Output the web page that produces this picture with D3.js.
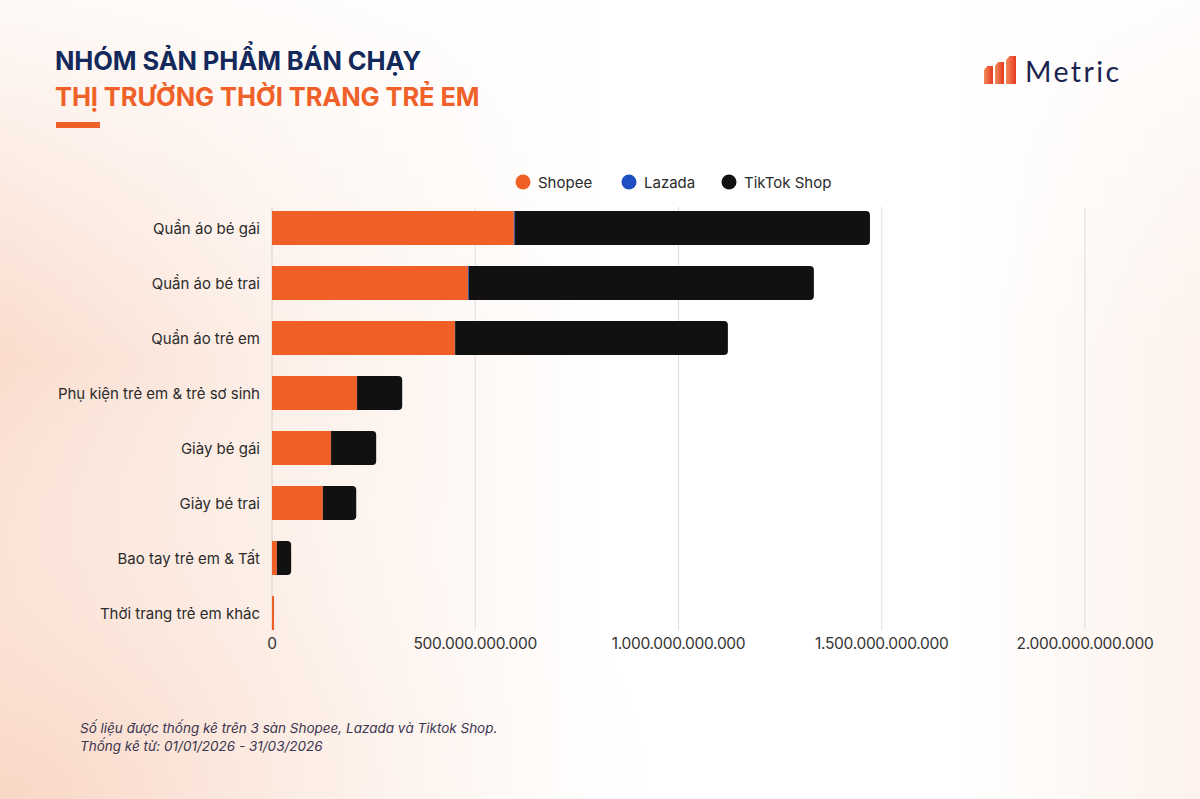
<!DOCTYPE html>
<html>
<head>
<meta charset="utf-8">
<script src="https://cdn.jsdelivr.net/npm/d3@7"></script>
<style>
  body { margin: 0; padding: 0; background: #fff; }
  svg { display: block; font-family: Inter, "Noto Sans", sans-serif; }
</style>
</head>
<body>
<div id="chart"></div>
<script>
// data (VND, billions)
const categories = ["Quần áo bé gái", "Quần áo bé trai", "Quần áo trẻ em",
  "Phụ kiện trẻ em & trẻ sơ sinh", "Giày bé gái", "Giày bé trai",
  "Bao tay trẻ em & Tất", "Thời trang trẻ em khác"];
const seriesNames = ["Shopee", "Lazada", "TikTok Shop"];
const shopee = [595, 482, 450, 209, 145, 125, 12, 5];
const lazada = [2, 2, 0.5, 0.3, 0.3, 0.2, 0.1, 0];
const tiktok = [874, 849, 671, 111, 111, 82, 35, 0];
const xTicks = [0, 500, 1000, 1500, 2000];
const colors = ["#f05f26", "#1d4ec2", "#111111"];

const width = 1200, height = 799;
const margin = {top: 200.5, left: 272, right: 115, bottom: 158.5};

const svg = d3.select("#chart").append("svg")
  .attr("width", width).attr("height", height);

// background
const defs = svg.append("defs");
const lg = defs.append("linearGradient").attr("id", "bgL").attr("x1", 0).attr("x2", 1).attr("y1", 0).attr("y2", 0);
lg.append("stop").attr("offset", 0).attr("stop-color", "#fadccd");
lg.append("stop").attr("offset", 0.25).attr("stop-color", "#fdf1ea");
lg.append("stop").attr("offset", 0.5).attr("stop-color", "#ffffff");
lg.append("stop").attr("offset", 0.8).attr("stop-color", "#ffffff");
lg.append("stop").attr("offset", 1).attr("stop-color", "#fdf2ec");
const rg = defs.append("radialGradient").attr("id", "bgR").attr("cx", 0).attr("cy", 1).attr("r", 0.55);
rg.append("stop").attr("offset", 0).attr("stop-color", "#f9d6c4").attr("stop-opacity", 0.9);
rg.append("stop").attr("offset", 1).attr("stop-color", "#ffffff").attr("stop-opacity", 0);
svg.append("rect").attr("width", width).attr("height", height).attr("fill", "url(#bgL)");
svg.append("rect").attr("width", width).attr("height", height).attr("fill", "url(#bgR)");
// keep the top-left area light
const tg = defs.append("linearGradient").attr("id", "bgT").attr("x1", 0).attr("x2", 0).attr("y1", 0).attr("y2", 1);
tg.append("stop").attr("offset", 0).attr("stop-color", "#ffffff").attr("stop-opacity", 0.85);
tg.append("stop").attr("offset", 0.45).attr("stop-color", "#ffffff").attr("stop-opacity", 0);
svg.append("rect").attr("width", width).attr("height", height).attr("fill", "url(#bgT)");

// title
svg.append("text").attr("x", 55).attr("y", 70)
  .attr("font-size", 25.5).attr("font-weight", 700).attr("fill", "#13295b")
  .attr("letter-spacing", -0.1)
  .text("NHÓM SẢN PHẨM BÁN CHẠY");
svg.append("text").attr("x", 55).attr("y", 106)
  .attr("font-size", 25.5).attr("font-weight", 700).attr("fill", "#ef6128")
  .attr("letter-spacing", -0.1)
  .text("THỊ TRƯỜNG THỜI TRANG TRẺ EM");
svg.append("rect").attr("x", 56).attr("y", 122).attr("width", 44).attr("height", 6).attr("fill", "#ef6128");

// logo
const logo = svg.append("g").attr("transform", "translate(984,56)");
const lgLogo = defs.append("linearGradient").attr("id", "logoG").attr("x1", 0).attr("x2", 1);
lgLogo.append("stop").attr("offset", 0).attr("stop-color", "#f28a5a");
lgLogo.append("stop").attr("offset", 1).attr("stop-color", "#e8391f");
[[0, 10, 9], [11, 6, 9], [22, 0, 10]].forEach(([x, top, w]) => {
  logo.append("path")
    .attr("d", `M${x},${top + 4} L${x + w * 0.35},${top} L${x + w},${top} L${x + w},28 L${x},28 Z`)
    .attr("fill", "url(#logoG)");
});
svg.append("text").attr("x", 1025).attr("y", 82)
  .attr("font-size", 28.5).attr("font-family", "Lato, sans-serif").attr("fill", "#1c2452")
  .attr("letter-spacing", 2.4)
  .text("Metric");

// scales
const x = d3.scaleLinear().domain([0, 2000]).range([margin.left, margin.left + 813]);
const y = d3.scaleBand().domain(categories).range([margin.top, height - margin.bottom]).paddingInner(0.38).paddingOuter(0.19);

// grid
svg.append("g").selectAll("line").data(xTicks).join("line")
  .attr("x1", d => x(d)).attr("x2", d => x(d))
  .attr("y1", 207).attr("y2", 630)
  .attr("stroke", d => d === 0 ? "#cfcfcf" : "#e0dcdc").attr("stroke-width", 1);

// x axis labels
const fmt = v => d3.format(",.0f")(v * 1e9).replace(/,/g, ".");
svg.append("g").selectAll("text").data(xTicks).join("text")
  .attr("x", d => x(d)).attr("y", 649)
  .attr("text-anchor", "middle").attr("font-size", 15.5).attr("fill", "#333")
  .attr("letter-spacing", -0.3)
  .text(d => fmt(d));

// y labels
svg.append("g").selectAll("text").data(categories).join("text")
  .attr("x", 260).attr("y", d => y(d) + y.bandwidth() / 2 + 5.5)
  .attr("text-anchor", "end").attr("font-size", 15).attr("fill", "#2b2b2b")
  .text(d => d);

// stacked bars
const rows = categories.map((c, i) => ({cat: c, Shopee: shopee[i], Lazada: lazada[i], "TikTok Shop": tiktok[i]}));
const stack = d3.stack().keys(seriesNames)(rows);
const r = 4;
function segPath(x0, x1, y0, h, round) {
  const w = x1 - x0;
  if (!round || w < r) return `M${x0},${y0}h${w}v${h}h${-w}Z`;
  return `M${x0},${y0}H${x1 - r}A${r},${r} 0 0 1 ${x1},${y0 + r}V${y0 + h - r}A${r},${r} 0 0 1 ${x1 - r},${y0 + h}H${x0}Z`;
}
stack.forEach((s, si) => {
  svg.append("g").selectAll("path").data(s).join("path")
    .attr("fill", colors[si])
    .attr("d", (d, i) => {
      const last = si === seriesNames.length - 1 || (si === 0 && tiktok[i] === 0 && lazada[i] === 0);
      return segPath(x(d[0]), x(d[1]), y(d.data.cat), y.bandwidth(), last && (d[1] - d[0]) > 0);
    });
});

// legend
const legX = [523, 629, 729];
const leg = svg.append("g");
seriesNames.forEach((n, i) => {
  leg.append("circle").attr("cx", legX[i]).attr("cy", 182).attr("r", 7.5).attr("fill", colors[i]);
  leg.append("text").attr("x", legX[i] + 15).attr("y", 187.5)
    .attr("font-size", 15).attr("fill", "#2b2b2b").text(n);
});

// footnote
svg.append("text").attr("x", 80).attr("y", 733)
  .attr("font-size", 13.5).attr("font-style", "italic").attr("fill", "#3a3550")
  .text("Số liệu được thống kê trên 3 sàn Shopee, Lazada và Tiktok Shop.");
svg.append("text").attr("x", 80).attr("y", 751)
  .attr("font-size", 13.5).attr("font-style", "italic").attr("fill", "#3a3550")
  .text("Thống kê từ: 01/01/2026 - 31/03/2026");
</script>
</body>
</html>
